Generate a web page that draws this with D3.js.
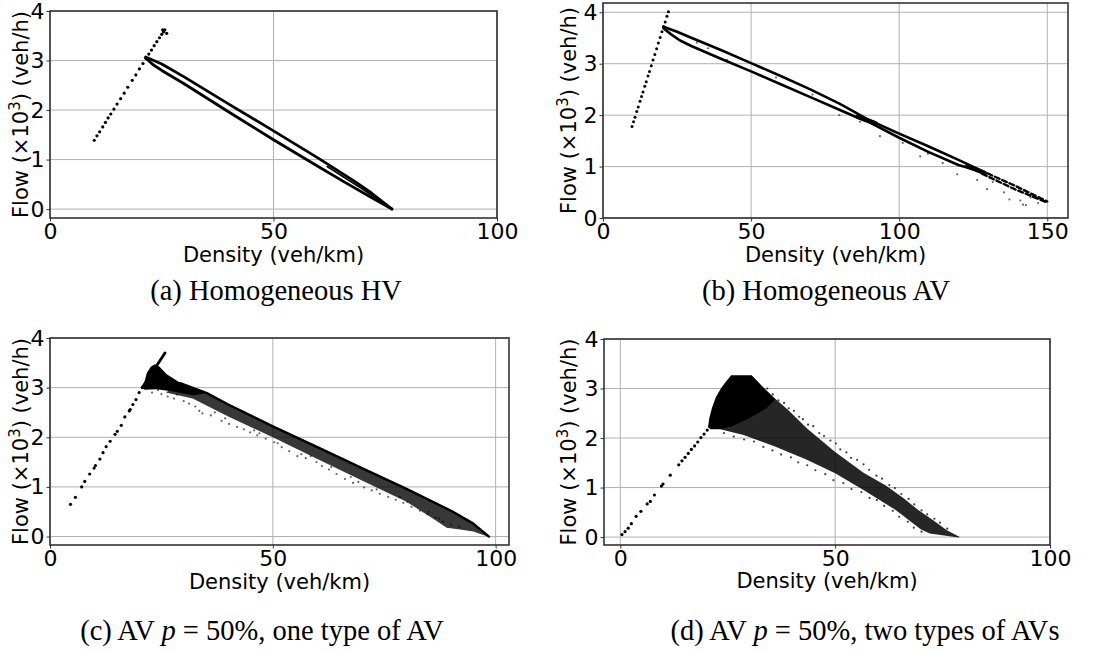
<!DOCTYPE html>
<html lang="en">
  <head>
    <meta charset="UTF-8" />
    <title>Flow-density diagrams</title>
    <script src="https://d3js.org/d3.v7.min.js"></script>
    <style>
      body { margin: 0; background: #fff; }
      .tick text { font-family: "DejaVu Sans", sans-serif; font-size: 22px; fill: #000; }
      .tick line { stroke: #333; }
    </style>
  </head>
  <body>
    <svg></svg>
    <script>
      var width = 1102;
      var height = 651;

      // ticks
      var xTicks100 = [0, 50, 100];
      var xTicks150 = [0, 50, 100, 150];
      var yTicks = [0, 1, 2, 3, 4];

      // captions
      var captions = [
        ["(a) Homogeneous HV"],
        ["(b) Homogeneous AV"],
        ["(c) AV ", "p", " = 50%, one type of AV"],
        ["(d) AV ", "p", " = 50%, two types of AVs"],
      ];

      // (a) homogeneous HV  [density, flow x10^3]
      var aFree = [[9.9,1.39],[10.5,1.48],[11.1,1.56],[11.8,1.66],[12.4,1.75],[13.0,1.84],[13.6,1.92],[14.3,2.02],
        [15.0,2.12],[15.8,2.23],[16.6,2.34],[17.4,2.46],[18.4,2.60],[19.2,2.71],[20.0,2.83],[20.8,2.94],[21.5,3.04],
        [22.1,3.13],[22.7,3.21],[23.3,3.30],[23.9,3.38],[24.5,3.46],[25.0,3.53],[25.4,3.58],[25.2,3.62],[25.7,3.62],[26.1,3.55]];
      var aUpper = [[21.4,3.07],[25,2.93],[30,2.67],[40,2.12],[50,1.58],[60,1.03],[68,0.57],[72,0.32],[76.5,0.0]];
      var aLower = [[21.4,3.05],[23,2.92],[25,2.8],[30,2.53],[40,1.96],[50,1.40],[60,0.86],[66,0.54],[72,0.23],[76.5,0.0]];
      var aMid = [[62,0.86],[70,0.4],[76.5,0.0]];

      // (b) homogeneous AV
      var bFree = [[9.8,1.78],[10.3,1.87],[10.8,1.96],[11.4,2.07],[11.9,2.16],[12.5,2.27],[13.0,2.36],[13.5,2.45],
        [14.1,2.56],[14.6,2.65],[15.2,2.76],[15.7,2.85],[16.3,2.96],[16.9,3.07],[17.5,3.18],[18.1,3.29],[18.7,3.40],
        [19.3,3.51],[19.9,3.62],[20.5,3.72],[21.0,3.81],[21.6,3.92],[22.1,4.01]];
      var bUpper = [[20.4,3.72],[25,3.62],[30,3.5],[40,3.26],[50,3.01],[60,2.76],[70,2.5],[80,2.22],[90,1.9],
        [100,1.64],[110,1.39],[120,1.13],[127.4,0.93]];
      var bLower = [[20.4,3.69],[23,3.57],[26,3.45],[30,3.34],[40,3.09],[50,2.85],[60,2.6],[70,2.35],[80,2.1],
        [86,1.95],[90,1.86],[100,1.56],[110,1.28],[120,1.03],[127.4,0.91]];
      var bDashUpper = [[127.4,0.93],[139,0.63],[150,0.32]];
      var bDashLower = [[128,0.86],[139,0.56],[150,0.3]];
      var bKnot1 = [[86,1.97],[92,1.84]];
      var bKnot2 = [[123,1.01],[129,0.87]];
      var bScatter = [[31.7,3.41],[35.5,3.30],[41.9,3.07],[58.4,2.73],[70.7,2.40],[79.8,2.0],[86.8,1.87],[93.5,1.59],
        [101.2,1.46],[107.1,1.20],[109.7,1.25],[114.7,1.07],[119.6,0.85],[123.8,0.96],[126.3,0.74],[129.7,0.56],
        [131.6,0.70],[135.4,0.50],[137.2,0.36],[140.9,0.34],[141.8,0.26],[142.8,0.25],[144.4,0.40],[146.9,0.29]];

      // (c) AV p = 50%, one type of AV
      var cFree = [[4.6,0.65],[5.7,0.79],[7.1,1.0],[7.8,1.11],[8.9,1.26],[9.9,1.38],[10.2,1.43],[11.2,1.56],
        [11.9,1.69],[12.6,1.81],[13.5,1.92],[14.6,2.06],[15.1,2.12],[16.0,2.24],[16.8,2.41],[17.8,2.53],[18.0,2.56],
        [18.6,2.66],[19.3,2.76],[20.0,2.9],[20.7,3.0]];
      var cFreeTop = [[20.7,3.0],[25.8,3.70]];
      var cCore = [[20.8,2.98],[21.2,3.12],[21.7,3.29],[22.6,3.42],[23.5,3.47],[24.6,3.42],[26.2,3.27],[29.2,3.1],
        [32.9,2.97],[35.2,2.89],[32.2,2.84],[27.7,2.92],[23.9,2.97],[21.3,2.96]];
      var cBandTop = [[29.2,3.09],[35.2,2.89],[40,2.66],[50,2.22],[60,1.8],[70,1.38],[80,0.96],[90,0.52],[95,0.26],[98.5,0.0]];
      var cBandBottom = [[98.5,-0.01],[95,0.1],[92,0.14],[89,0.18],[86,0.36],[80,0.7],[70,1.13],[60,1.56],
        [50,2.0],[40,2.42],[32,2.78],[26,2.9]];
      var cScatter = [[22.9,2.9],[25.0,2.87],[26.4,2.82],[27.8,2.78],[28.5,2.86],[30.0,2.73],[31.2,2.68],[33.5,2.53],
        [34.2,2.48],[36.1,2.44],[37.0,2.5],[38.5,2.33],[40.2,2.27],[42.0,2.21],[43.5,2.16],[44.9,2.1],[46.5,2.04],
        [47.0,2.08],[48.4,1.97],[50.3,1.9],[52.0,1.8],[53.7,1.72],[55.5,1.62],[57.4,1.58],[58.5,1.62],[59.8,1.5],
        [61.0,1.42],[62.6,1.35],[64.3,1.26],[66.2,1.16],[67.5,1.2],[68.0,1.08],[70.5,0.99],[72.2,0.93],[74.0,0.86],
        [75.9,0.8],[77.6,0.74],[78.5,0.8],[79.3,0.68],[81.1,0.6],[83.0,0.52],[84.7,0.45],[85.0,0.5],[86.5,0.38],
        [88.2,0.3],[90.0,0.24],[91.8,0.2],[24.2,2.95],[32.6,2.62],[39.3,2.38],[45.8,2.14],[51.1,1.88],[56.4,1.66],
        [63.1,1.4],[69.2,1.1],[73.3,0.95],[80.2,0.7],[87.3,0.36]];

      // (d) AV p = 50%, two types of AVs
      var dFree = [[0.37,0.05],[1.1,0.11],[1.84,0.18],[2.57,0.27],[3.68,0.42],[4.78,0.52],[6.25,0.67],[6.99,0.72],
        [7.94,0.85],[9.56,1.03],[9.93,1.07],[11.62,1.25],[13.6,1.46],[14.34,1.54],[15.07,1.61],[15.81,1.69],
        [16.54,1.77],[17.28,1.84],[18.01,1.92],[18.75,2.01],[19.49,2.08],[20.22,2.16]];
      var dCore = [[20.4,2.22],[20.7,2.4],[21.3,2.6],[22.2,2.82],[23.4,3.0],[24.6,3.14],[25.8,3.27],[30.5,3.27],
        [31.8,3.15],[33.0,3.02],[34.6,2.9],[36.0,2.78],[34.0,2.6],[30.0,2.4],[26.0,2.24],[23.0,2.18],[21.0,2.18]];
      var dBandTop = [[30.5,3.27],[33,3.05],[36,2.8],[39,2.57],[43.4,2.2],[50,1.72],[56.6,1.3],[61.8,1.04],
        [66,0.78],[69.1,0.56],[72.8,0.34],[76,0.14],[79,0.0]];
      var dBandBottom = [[78.7,-0.01],[72,0.07],[69.9,0.16],[64,0.55],[56.6,0.95],[50,1.29],[43.4,1.56],
        [36,1.83],[28.7,2.06],[21.3,2.22]];
      var dScatter = [[34.2,3.0],[35.5,2.88],[36.8,2.76],[38.1,2.71],[39.2,2.6],[40.4,2.55],[41.6,2.43],[42.5,2.38],
        [43.7,2.27],[44.9,2.24],[46.3,2.1],[47.4,2.04],[48.9,1.95],[50.2,1.89],[51.2,1.77],[52.6,1.71],[53.7,1.6],
        [55.1,1.56],[56.6,1.47],[57.9,1.36],[59.6,1.24],[60.9,1.18],[62.6,1.05],[63.9,0.99],[65.4,0.87],[67.1,0.77],
        [68.4,0.66],[70.1,0.54],[71.4,0.46],[73.1,0.37],[74.4,0.29],[76.1,0.17],
        [24.1,2.1],[26.4,2.03],[28.8,1.97],[31.1,1.93],[33.3,1.82],[35.4,1.75],[37.4,1.67],[39.7,1.61],[41.4,1.51],
        [43.5,1.45],[45.4,1.35],[47.7,1.27],[49.6,1.15],[51.9,1.09],[53.8,0.97],[56.1,0.91],[58.0,0.79],[59.7,0.75],
        [61.4,0.63],[63.4,0.53],[64.9,0.41],[66.9,0.31],[68.3,0.19],[70.1,0.11]];

      var panels = [
        { left: 50, right: 497, top: 11, bottom: 218, xd: [0, 100], yd: [-0.18, 4], xt: xTicks100,
          ylabX: 28, xlabY: 262, capX: 276, capY: 300 },
        { left: 603, right: 1068, top: 3, bottom: 218, xd: [0, 157], yd: [0, 4.18], xt: xTicks150,
          ylabX: 576, xlabY: 262, capX: 826, capY: 300 },
        { left: 50, right: 509, top: 338, bottom: 545, xd: [0, 103], yd: [-0.17, 4], xt: xTicks100,
          ylabX: 28, xlabY: 589, capX: 262, capY: 640 },
        { left: 604, right: 1050, top: 339, bottom: 545, xd: [-3.8, 100], yd: [-0.16, 4], xt: xTicks100,
          ylabX: 576, xlabY: 588, capX: 865, capY: 640 },
      ];

      var svg = d3.select("svg").attr("width", width).attr("height", height);

      function frame(i) {
        var p = panels[i];
        var x = d3.scaleLinear().domain(p.xd).range([p.left, p.right]);
        var y = d3.scaleLinear().domain(p.yd).range([p.bottom, p.top]);
        var g = svg.append("g");

        g.append("clipPath").attr("id", "clip" + i)
          .append("rect")
          .attr("x", p.left).attr("y", p.top)
          .attr("width", p.right - p.left).attr("height", p.bottom - p.top);

        // grid
        g.append("g").selectAll("line").data(p.xt).join("line")
          .attr("x1", (d) => x(d)).attr("x2", (d) => x(d))
          .attr("y1", p.top).attr("y2", p.bottom)
          .style("stroke", "#b0b0b0").style("stroke-width", 1);
        g.append("g").selectAll("line").data(yTicks).join("line")
          .attr("x1", p.left).attr("x2", p.right)
          .attr("y1", (d) => y(d)).attr("y2", (d) => y(d))
          .style("stroke", "#b0b0b0").style("stroke-width", 1);

        var marks = g.append("g").attr("clip-path", "url(#clip" + i + ")");
        return { p: p, x: x, y: y, g: g, marks: marks };
      }

      function finish(f, i) {
        var p = f.p;
        var g = f.g;
        g.append("rect")
          .attr("x", p.left).attr("y", p.top)
          .attr("width", p.right - p.left).attr("height", p.bottom - p.top)
          .style("fill", "none").style("stroke", "#333").style("stroke-width", 1.6);

        g.append("g").attr("transform", `translate(0, ${p.bottom})`)
          .call(d3.axisBottom(f.x).tickValues(p.xt).tickFormat(d3.format("d")).tickSize(3.5).tickPadding(2))
          .call((a) => a.select(".domain").remove());
        g.append("g").attr("transform", `translate(${p.left}, 0)`)
          .call(d3.axisLeft(f.y).tickValues(yTicks).tickFormat(d3.format("d")).tickSize(3.5).tickPadding(2))
          .call((a) => a.select(".domain").remove());

        g.append("text")
          .attr("x", (p.left + p.right) / 2).attr("y", p.xlabY)
          .attr("text-anchor", "middle")
          .style("font-family", "DejaVu Sans, sans-serif").style("font-size", "21px")
          .text("Density (veh/km)");

        var yl = g.append("text")
          .attr("transform", `translate(${p.ylabX}, ${(p.top + p.bottom) / 2}) rotate(-90)`)
          .attr("text-anchor", "middle")
          .style("font-family", "DejaVu Sans, sans-serif").style("font-size", "21px");
        yl.append("tspan").text("Flow (\u00d710");
        yl.append("tspan").attr("dy", -8).style("font-size", "15px").text("3");
        yl.append("tspan").attr("dy", 8).text(") (veh/h)");

        var cap = g.append("text")
          .attr("x", p.capX).attr("y", p.capY)
          .attr("text-anchor", "middle")
          .style("font-family", "Liberation Serif, Times New Roman, serif").style("font-size", "28.5px");
        captions[i].forEach(function (s, k) {
          cap.append("tspan").style("font-style", k === 1 ? "italic" : "normal").text(s);
        });
      }

      function dots(f, data, r, color, op) {
        f.marks.append("g").selectAll("circle").data(data).join("circle")
          .attr("cx", (d) => f.x(d[0])).attr("cy", (d) => f.y(d[1]))
          .attr("r", r).style("fill", color).style("opacity", op);
      }

      function path(f, data, w, dash) {
        var line = d3.line().x((d) => f.x(d[0])).y((d) => f.y(d[1]));
        f.marks.append("path").attr("d", line(data))
          .style("fill", "none").style("stroke", "#000").style("stroke-width", w)
          .style("stroke-linejoin", "round").style("stroke-linecap", "round")
          .style("stroke-dasharray", dash || null);
      }

      function area(f, data, color, op) {
        var line = d3.line().x((d) => f.x(d[0])).y((d) => f.y(d[1]));
        f.marks.append("path").attr("d", line(data) + "Z")
          .style("fill", color).style("fill-opacity", op).style("stroke", "none");
      }

      // (a)
      var fa = frame(0);
      path(fa, aUpper, 2.8);
      path(fa, aLower, 2.8);
      path(fa, aMid, 1.6);
      dots(fa, aFree, 1.6, "#000", 1);
      finish(fa, 0);

      // (b)
      var fb = frame(1);
      dots(fb, bScatter, 1.1, "#444", 0.8);
      path(fb, bUpper, 2.6);
      path(fb, bLower, 2.6);
      path(fb, bDashUpper, 2.4, "5 3");
      path(fb, bDashLower, 2.4, "5 3");
      path(fb, bKnot1, 4.5);
      path(fb, bKnot2, 4.5);
      dots(fb, bFree, 1.5, "#000", 1);
      finish(fb, 1);

      // (c)
      var fc = frame(2);
      dots(fc, cScatter, 1.1, "#333", 0.75);
      area(fc, cBandTop.concat(cBandBottom), "#000", 0.78);
      path(fc, cBandTop, 2.4);
      area(fc, cCore, "#000", 1);
      path(fc, cFreeTop, 2.8);
      dots(fc, cFree, 1.6, "#000", 1);
      finish(fc, 2);

      // (d)
      var fd = frame(3);
      dots(fd, dScatter, 1.1, "#111", 0.8);
      area(fd, dBandTop.concat(dBandBottom), "#000", 0.85);
      area(fd, dCore, "#000", 1);
      dots(fd, dFree, 1.6, "#000", 1);
      finish(fd, 3);
    </script>
  </body>
</html>
